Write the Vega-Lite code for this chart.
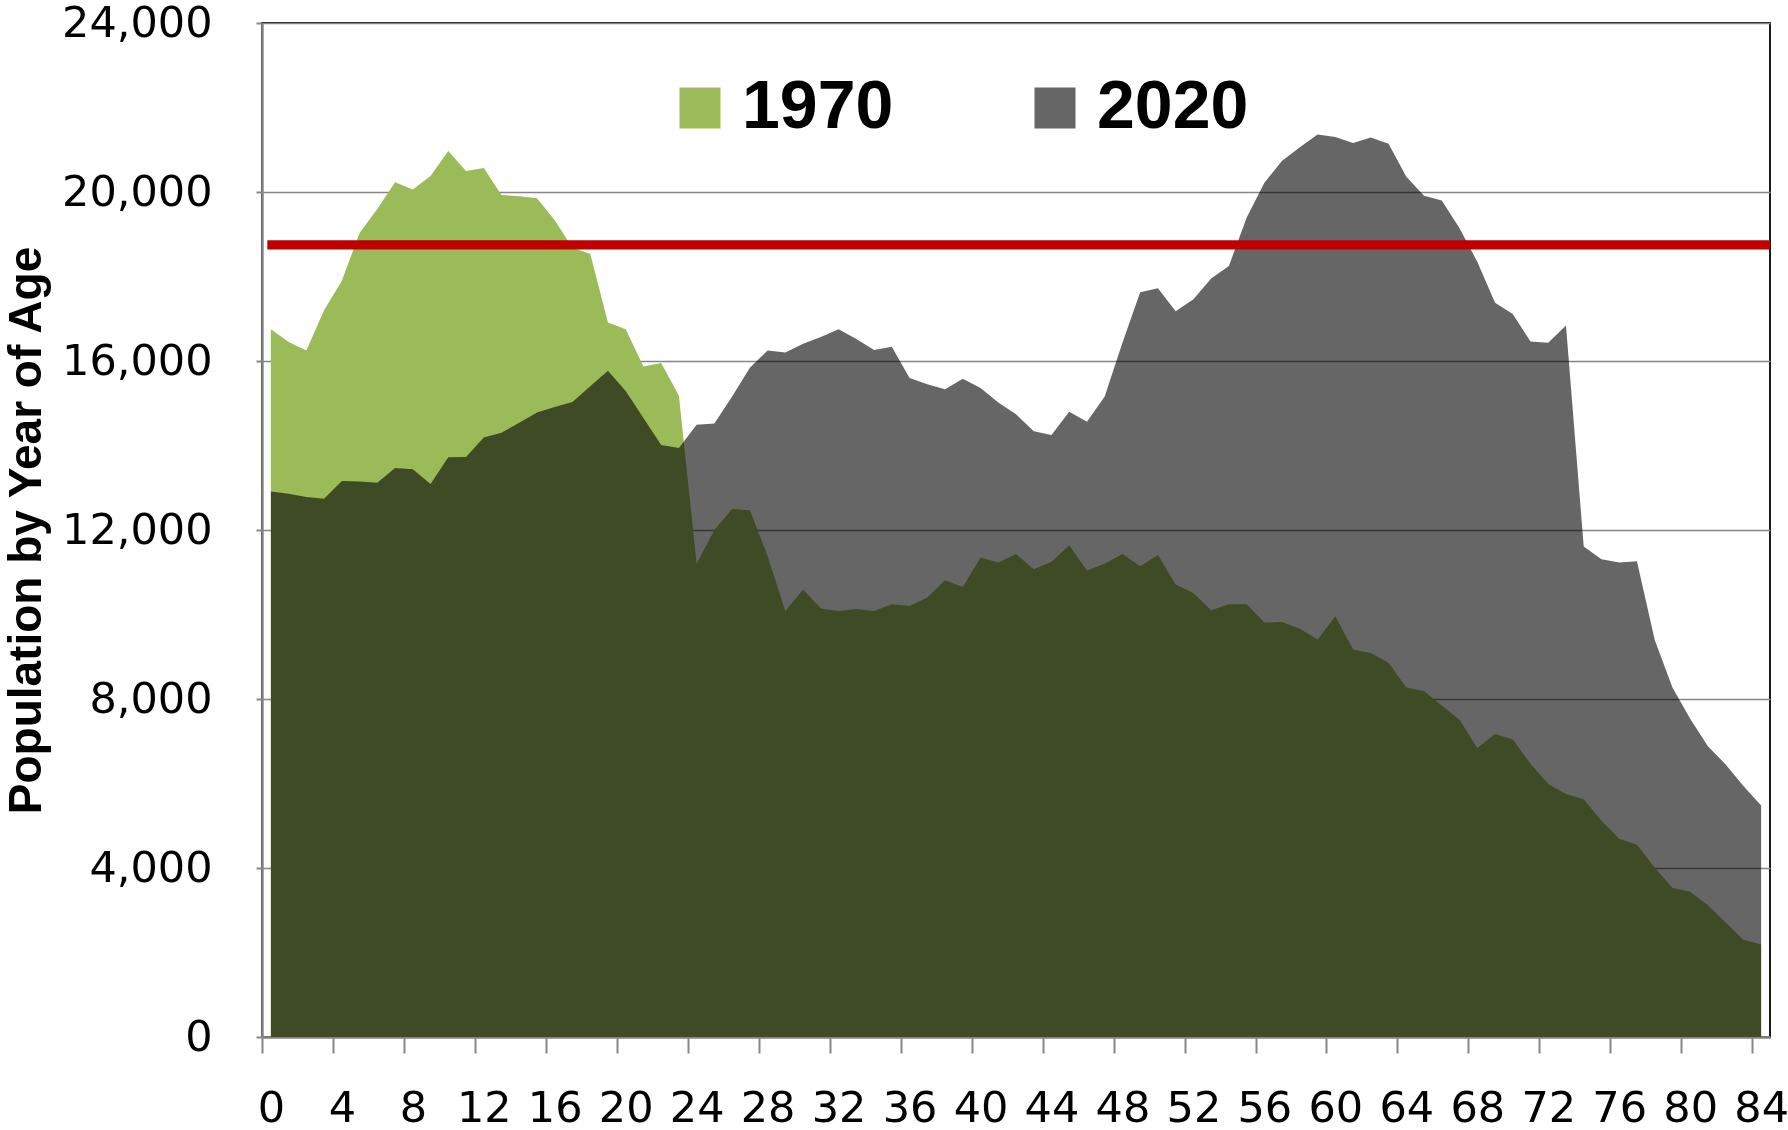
{
"$schema": "https://vega.github.io/schema/vega-lite/v6.json",
"width": 1508, "height": 1014,
"autosize": {"type": "none"},
"padding": {"left": 262, "top": 23, "right": 18, "bottom": 93},
"background": "white",
"config": {"view": {"stroke": "#1a1a1a", "strokeWidth": 2}},
"datasets": {
"pop": [
{"age":0,"year":"1970","pop":16750},{"age":1,"year":"1970","pop":16450},{"age":2,"year":"1970","pop":16250},{"age":3,"year":"1970","pop":17200},{"age":4,"year":"1970","pop":17900},{"age":5,"year":"1970","pop":19030},{"age":6,"year":"1970","pop":19600},{"age":7,"year":"1970","pop":20230},{"age":8,"year":"1970","pop":20060},{"age":9,"year":"1970","pop":20380},{"age":10,"year":"1970","pop":20970},{"age":11,"year":"1970","pop":20500},{"age":12,"year":"1970","pop":20570},{"age":13,"year":"1970","pop":19930},{"age":14,"year":"1970","pop":19900},{"age":15,"year":"1970","pop":19850},{"age":16,"year":"1970","pop":19330},{"age":17,"year":"1970","pop":18680},{"age":18,"year":"1970","pop":18540},{"age":19,"year":"1970","pop":16910},{"age":20,"year":"1970","pop":16750},{"age":21,"year":"1970","pop":15870},{"age":22,"year":"1970","pop":15950},{"age":23,"year":"1970","pop":15180},{"age":24,"year":"1970","pop":11200},{"age":25,"year":"1970","pop":12000},{"age":26,"year":"1970","pop":12500},{"age":27,"year":"1970","pop":12470},{"age":28,"year":"1970","pop":11380},{"age":29,"year":"1970","pop":10080},{"age":30,"year":"1970","pop":10590},{"age":31,"year":"1970","pop":10140},{"age":32,"year":"1970","pop":10080},{"age":33,"year":"1970","pop":10130},{"age":34,"year":"1970","pop":10080},{"age":35,"year":"1970","pop":10240},{"age":36,"year":"1970","pop":10200},{"age":37,"year":"1970","pop":10400},{"age":38,"year":"1970","pop":10810},{"age":39,"year":"1970","pop":10650},{"age":40,"year":"1970","pop":11350},{"age":41,"year":"1970","pop":11230},{"age":42,"year":"1970","pop":11430},{"age":43,"year":"1970","pop":11070},{"age":44,"year":"1970","pop":11250},{"age":45,"year":"1970","pop":11640},{"age":46,"year":"1970","pop":11040},{"age":47,"year":"1970","pop":11200},{"age":48,"year":"1970","pop":11430},{"age":49,"year":"1970","pop":11140},{"age":50,"year":"1970","pop":11410},{"age":51,"year":"1970","pop":10710},{"age":52,"year":"1970","pop":10510},{"age":53,"year":"1970","pop":10100},{"age":54,"year":"1970","pop":10240},{"age":55,"year":"1970","pop":10240},{"age":56,"year":"1970","pop":9810},{"age":57,"year":"1970","pop":9820},{"age":58,"year":"1970","pop":9660},{"age":59,"year":"1970","pop":9410},{"age":60,"year":"1970","pop":9960},{"age":61,"year":"1970","pop":9170},{"age":62,"year":"1970","pop":9090},{"age":63,"year":"1970","pop":8860},{"age":64,"year":"1970","pop":8270},{"age":65,"year":"1970","pop":8190},{"age":66,"year":"1970","pop":7840},{"age":67,"year":"1970","pop":7510},{"age":68,"year":"1970","pop":6840},{"age":69,"year":"1970","pop":7170},{"age":70,"year":"1970","pop":7040},{"age":71,"year":"1970","pop":6470},{"age":72,"year":"1970","pop":5990},{"age":73,"year":"1970","pop":5750},{"age":74,"year":"1970","pop":5630},{"age":75,"year":"1970","pop":5120},{"age":76,"year":"1970","pop":4690},{"age":77,"year":"1970","pop":4550},{"age":78,"year":"1970","pop":4010},{"age":79,"year":"1970","pop":3530},{"age":80,"year":"1970","pop":3440},{"age":81,"year":"1970","pop":3120},{"age":82,"year":"1970","pop":2710},{"age":83,"year":"1970","pop":2300},{"age":84,"year":"1970","pop":2190},
{"age":0,"year":"2020","pop":12910},{"age":1,"year":"2020","pop":12860},{"age":2,"year":"2020","pop":12780},{"age":3,"year":"2020","pop":12740},{"age":4,"year":"2020","pop":13160},{"age":5,"year":"2020","pop":13150},{"age":6,"year":"2020","pop":13120},{"age":7,"year":"2020","pop":13470},{"age":8,"year":"2020","pop":13440},{"age":9,"year":"2020","pop":13090},{"age":10,"year":"2020","pop":13720},{"age":11,"year":"2020","pop":13730},{"age":12,"year":"2020","pop":14190},{"age":13,"year":"2020","pop":14300},{"age":14,"year":"2020","pop":14540},{"age":15,"year":"2020","pop":14780},{"age":16,"year":"2020","pop":14910},{"age":17,"year":"2020","pop":15030},{"age":18,"year":"2020","pop":15400},{"age":19,"year":"2020","pop":15770},{"age":20,"year":"2020","pop":15290},{"age":21,"year":"2020","pop":14650},{"age":22,"year":"2020","pop":14010},{"age":23,"year":"2020","pop":13940},{"age":24,"year":"2020","pop":14490},{"age":25,"year":"2020","pop":14520},{"age":26,"year":"2020","pop":15160},{"age":27,"year":"2020","pop":15840},{"age":28,"year":"2020","pop":16250},{"age":29,"year":"2020","pop":16200},{"age":30,"year":"2020","pop":16410},{"age":31,"year":"2020","pop":16570},{"age":32,"year":"2020","pop":16750},{"age":33,"year":"2020","pop":16520},{"age":34,"year":"2020","pop":16260},{"age":35,"year":"2020","pop":16340},{"age":36,"year":"2020","pop":15600},{"age":37,"year":"2020","pop":15450},{"age":38,"year":"2020","pop":15330},{"age":39,"year":"2020","pop":15580},{"age":40,"year":"2020","pop":15360},{"age":41,"year":"2020","pop":15020},{"age":42,"year":"2020","pop":14740},{"age":43,"year":"2020","pop":14340},{"age":44,"year":"2020","pop":14250},{"age":45,"year":"2020","pop":14800},{"age":46,"year":"2020","pop":14560},{"age":47,"year":"2020","pop":15160},{"age":48,"year":"2020","pop":16430},{"age":49,"year":"2020","pop":17630},{"age":50,"year":"2020","pop":17720},{"age":51,"year":"2020","pop":17180},{"age":52,"year":"2020","pop":17460},{"age":53,"year":"2020","pop":17950},{"age":54,"year":"2020","pop":18250},{"age":55,"year":"2020","pop":19390},{"age":56,"year":"2020","pop":20220},{"age":57,"year":"2020","pop":20740},{"age":58,"year":"2020","pop":21060},{"age":59,"year":"2020","pop":21360},{"age":60,"year":"2020","pop":21300},{"age":61,"year":"2020","pop":21160},{"age":62,"year":"2020","pop":21290},{"age":63,"year":"2020","pop":21140},{"age":64,"year":"2020","pop":20360},{"age":65,"year":"2020","pop":19910},{"age":66,"year":"2020","pop":19800},{"age":67,"year":"2020","pop":19140},{"age":68,"year":"2020","pop":18350},{"age":69,"year":"2020","pop":17380},{"age":70,"year":"2020","pop":17110},{"age":71,"year":"2020","pop":16460},{"age":72,"year":"2020","pop":16430},{"age":73,"year":"2020","pop":16840},{"age":74,"year":"2020","pop":11610},{"age":75,"year":"2020","pop":11310},{"age":76,"year":"2020","pop":11230},{"age":77,"year":"2020","pop":11260},{"age":78,"year":"2020","pop":9400},{"age":79,"year":"2020","pop":8270},{"age":80,"year":"2020","pop":7530},{"age":81,"year":"2020","pop":6880},{"age":82,"year":"2020","pop":6450},{"age":83,"year":"2020","pop":5940},{"age":84,"year":"2020","pop":5480}
],
"level": [{"label": "reference level", "value": 18750}]
},
"layer": [
{
"data": {"name": "pop"},
"transform": [{"filter": "datum.year == '1970'"}],
"mark": {"type": "area", "opacity": 1, "interpolate": "linear"},
"encoding": {
"x": {"field": "age", "type": "quantitative",
"scale": {"domain": [-0.5, 84.5], "nice": false, "zero": false},
"axis": {"title": null, "grid": false,
"values": [-0.5,0.5,1.5,2.5,3.5,4.5,5.5,6.5,7.5,8.5,9.5,10.5,11.5,12.5,13.5,14.5,15.5,16.5,17.5,18.5,19.5,20.5,21.5,22.5,23.5,24.5,25.5,26.5,27.5,28.5,29.5,30.5,31.5,32.5,33.5,34.5,35.5,36.5,37.5,38.5,39.5,40.5,41.5,42.5,43.5,44.5,45.5,46.5,47.5,48.5,49.5,50.5,51.5,52.5,53.5,54.5,55.5,56.5,57.5,58.5,59.5,60.5,61.5,62.5,63.5,64.5,65.5,66.5,67.5,68.5,69.5,70.5,71.5,72.5,73.5,74.5,75.5,76.5,77.5,78.5,79.5,80.5,81.5,82.5,83.5,84.5],
"labelExpr": "(datum.value + 0.5) % 4 == 0 ? format(datum.value + 0.5, 'd') : ''",
"labelOffset": 8.87, "labelOverlap": false, "labelFlush": false, "labelBound": false,
"tickSize": 16, "tickWidth": 2, "tickColor": "#868686",
"domainColor": "#868686", "domainWidth": 2.5,
"labelFont": "DejaVu Sans", "labelFontSize": 43, "labelColor": "black", "labelPadding": 34}},
"y": {"field": "pop", "type": "quantitative", "stack": null,
"scale": {"domain": [0, 24000], "nice": false},
"axis": {"values": [0,4000,8000,12000,16000,20000,24000], "format": ",.0f",
"grid": true, "gridColor": "#868686", "gridWidth": 1.5,
"domainColor": "#868686", "domainWidth": 2.5,
"tickColor": "#868686", "tickSize": 6, "tickWidth": 2,
"labelFont": "DejaVu Sans", "labelFontSize": 43, "labelColor": "black", "labelPadding": 44,
"title": "Population by Year of Age", "titleFont": "Liberation Sans", "titleFontSize": 46,
"titleFontWeight": "bold", "titleColor": "black", "titlePadding": 12}},
"color": {"field": "year", "type": "nominal",
"scale": {"domain": ["1970", "2020"], "range": ["#9bbb59", "#666666"]},
"legend": {"orient": "none", "legendX": 404, "legendY": 51, "direction": "horizontal",
"title": null, "symbolType": "square", "symbolSize": 1681, "symbolStrokeWidth": 0,
"symbolOpacity": 1, "labelFont": "Liberation Sans", "labelFontWeight": "bold",
"labelFontSize": 68, "labelColor": "black", "labelOffset": 8, "columnPadding": 127, "padding": 0}}
}
},
{
"data": {"name": "pop"},
"transform": [{"filter": "datum.year == '2020'"}],
"mark": {"type": "area", "opacity": 1, "interpolate": "linear", "blend": "multiply"},
"encoding": {
"x": {"field": "age", "type": "quantitative"},
"y": {"field": "pop", "type": "quantitative", "stack": null},
"color": {"field": "year", "type": "nominal"}
}
},
{
"data": {"name": "level"},
"mark": {"type": "rule", "color": "#c00000", "strokeWidth": 9.3},
"encoding": {
"y": {"field": "value", "type": "quantitative"},
"x": {"datum": -0.2},
"x2": {"datum": 84.5}
}
}
]
}
